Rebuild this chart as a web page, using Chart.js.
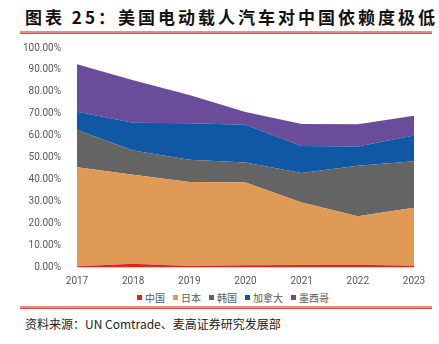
<!DOCTYPE html>
<html>
<head>
<meta charset="utf-8">
<script src="https://cdn.jsdelivr.net/npm/chart.js@4"></script>
<style>
  body { margin: 0; background: #fff; width: 439px; height: 344px; position: relative; overflow: hidden; }
  .title { position: absolute; left: 25px; top: 4px; font: bold 17px "Noto Sans CJK SC", sans-serif; color: #111; letter-spacing: 3px; }
  .rule { position: absolute; left: 20px; width: 412px; }
  .rule.top { top: 31px; height: 2px; background: #e88a8a; border-bottom: 1px solid #d94a4a; }
  .rule.bottom { top: 306px; height: 2px; background: #e88a8a; border-bottom: 1px solid #d94a4a; }
  .source { position: absolute; left: 25px; top: 315px; font: 12px "Noto Sans CJK SC", sans-serif; color: #222; }
  #wrap { position: absolute; left: 0; top: 34px; width: 439px; height: 253px; }
  #legenda { position: absolute; left: 137px; top: 290px; display: flex; align-items: center; font: 10px "Noto Sans CJK SC", sans-serif; color: #595959; }
  #legenda .item { display: flex; align-items: center; margin-right: 8px; }
  #legenda .cx { width: 5px; height: 5px; margin-right: 3px; }
</style>
</head>
<body>
<div class="title">图表 25：美国电动载人汽车对中国依赖度极低</div>
<div class="rule top"></div>
<div id="wrap"><canvas id="grafico"></canvas></div>
<div id="legenda"></div>
<div class="rule bottom"></div>
<div class="source">资料来源：UN Comtrade、麦高证券研究发展部</div>

<script>
// anos e participação de cada país (%)
const anos = ['2017', '2018', '2019', '2020', '2021', '2022', '2023'];
const china   = [0.3, 1.5, 0.5, 0.8, 0.9, 1.0, 0.6];
const japao   = [45.3, 40.6, 38.3, 37.8, 28.6, 22.2, 26.4];
const coreia  = [17.0, 11.1, 10.2, 9.1, 13.4, 23.0, 21.3];
const canada  = [8.3, 12.7, 16.6, 17.3, 12.4, 8.8, 11.7];
const mexico  = [21.7, 19.4, 12.9, 5.8, 10.0, 10.2, 9.1];

const series = [
    { label: '中国', data: china, cor: '#e02424' },
    { label: '日本', data: japao, cor: '#e09a58' },
    { label: '韩国', data: coreia, cor: '#646464' },
    { label: '加拿大', data: canada, cor: '#1057a6' },
    { label: '墨西哥', data: mexico, cor: '#6b4c9a' }
];

// legenda em HTML para controlar o espaçamento
const legenda = document.getElementById('legenda');
series.forEach(s => {
    const item = document.createElement('span');
    item.className = 'item';
    item.innerHTML = `<span class="cx" style="background:${s.cor}"></span>${s.label}`;
    legenda.appendChild(item);
});

new Chart(document.getElementById('grafico'), {
    type: 'line',
    data: {
        labels: anos,
        datasets: series.map((s, i) => ({
            label: s.label,
            data: s.data,
            backgroundColor: s.cor,
            borderColor: s.cor,
            borderWidth: 0,
            pointRadius: 0,
            tension: 0,
            fill: i === 0 ? 'origin' : '-1'
        }))
    },
    options: {
        responsive: true,
        maintainAspectRatio: false,
        animation: false,
        layout: { padding: { left: 0, right: 25, top: 0, bottom: 0 } },
        plugins: {
            legend: { display: false },
            tooltip: { enabled: false }
        },
        scales: {
            x: {
                offset: false,
                grid: { display: false },
                border: { color: '#d0d0d0' },
                ticks: { color: '#595959', font: { size: 10, family: 'Roboto, sans-serif' }, padding: 0, maxRotation: 0 }
            },
            y: {
                stacked: true,
                min: 0,
                max: 100,
                afterFit: (scale) => { scale.width = 77; },
                grid: { display: false },
                border: { display: false },
                ticks: {
                    stepSize: 10,
                    color: '#595959',
                    padding: 8,
                    font: { size: 10, family: 'Roboto, sans-serif' },
                    callback: (v) => v.toFixed(2) + '%'
                }
            }
        }
    }
});
</script>
</body>
</html>
